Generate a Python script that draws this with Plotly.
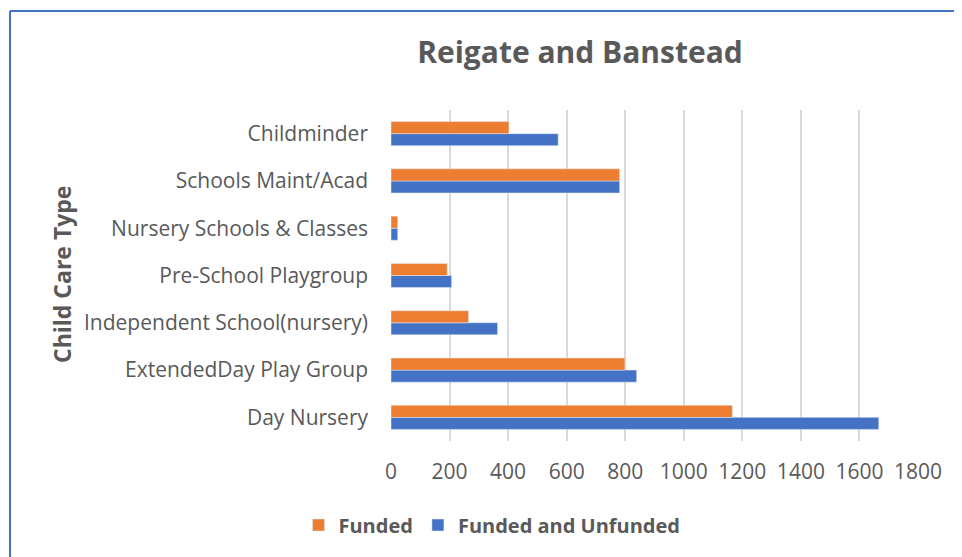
import plotly.graph_objects as go

# categories listed bottom to top, as drawn
categories = [
    "Day Nursery",
    "ExtendedDay Play Group",
    "Independent School(nursery)",
    "Pre-School Playgroup",
    "Nursery Schools & Classes",
    "Schools Maint/Acad",
    "Childminder",
]
funded = [1166, 799, 265, 192, 23, 781, 403]
funded_and_unfunded = [1666, 839, 364, 207, 23, 781, 571]
x_ticks = [0, 200, 400, 600, 800, 1000, 1200, 1400, 1600, 1800]

FONT = "Open Sans"
GREY = "#595959"

# page has an 8px body margin, so the figure is drawn 8px smaller
OFF = 8
FIG_W, FIG_H = 962 - OFF, 557 - OFF
# plot area in page pixels: x 391..918, y 110..441
L, R, T, B = 391 - OFF, 962 - 918, 110 - OFF, 557 - 441
W = FIG_W - L - R
H = FIG_H - T - B


def px_x(px):
    return (px - OFF - L) / W


def px_y(py):
    return (FIG_H - B - (py - OFF)) / H


fig = go.Figure()
fig.add_trace(go.Bar(
    y=categories, x=funded_and_unfunded, orientation="h",
    name="Funded and Unfunded", marker_color="#4472c4", legendrank=2,
))
fig.add_trace(go.Bar(
    y=categories, x=funded, orientation="h",
    name="Funded", marker_color="#ed7d31", legendrank=1,
))

fig.update_layout(
    width=FIG_W, height=FIG_H,
    margin=dict(l=L, r=R, t=T, b=B),
    paper_bgcolor="white", plot_bgcolor="white",
    barmode="group", bargap=0.49, bargroupgap=0,
    font=dict(family=FONT, color=GREY, size=20),
    title=dict(
        text="<b>Reigate and Banstead</b>",
        x=(580 - OFF) / FIG_W, xanchor="center",
        y=1 - (52 - OFF) / FIG_H, yanchor="middle",
        font=dict(family=FONT, size=30, color=GREY),
    ),
    legend=dict(
        orientation="h", x=px_x(492), xanchor="center",
        y=px_y(525), yanchor="middle",
        font=dict(family=FONT, size=20, color=GREY, weight="bold"),
    ),
    xaxis=dict(
        range=[0, 1800], tickvals=x_ticks, showgrid=True,
        gridcolor="#d9d9d9", gridwidth=1.5, zeroline=False,
        showline=False, ticks="", ticklabelstandoff=16,
        tickfont=dict(size=21, color=GREY),
    ),
    yaxis=dict(
        showgrid=False, showline=False, ticks="",
        ticklabelstandoff=22, tickfont=dict(size=21, color=GREY),
    ),
    showlegend=True,
)

fig.add_annotation(
    text="<b>Child Care Type</b>", textangle=-90,
    xref="paper", yref="paper", x=px_x(62), y=px_y(275),
    xanchor="center", yanchor="middle", showarrow=False,
    font=dict(family=FONT, size=23, color=GREY),
)

# outer chart frame (left and top edges are visible)
fig.add_shape(type="line", xref="paper", yref="paper",
              x0=px_x(10), x1=px_x(10), y0=px_y(11), y1=px_y(557),
              line=dict(color="#4472c4", width=2))
fig.add_shape(type="line", xref="paper", yref="paper",
              x0=px_x(10), x1=px_x(962), y0=px_y(11), y1=px_y(11),
              line=dict(color="#4472c4", width=2))

fig.write_html("out.html", config={"displayModeBar": False})
